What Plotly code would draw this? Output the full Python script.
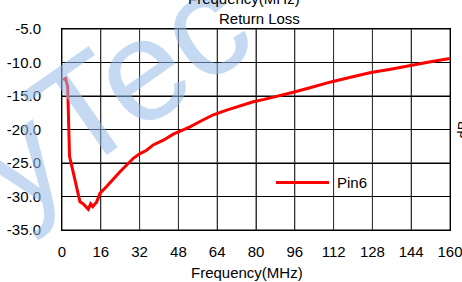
import plotly.graph_objects as go

# Data
freq_mhz = [0.5, 1.5, 2.35, 2.7, 3.1, 4.7, 6.1, 7.4, 8.8, 9.9, 10.85, 11.8, 12.7,
            14.3, 15.7, 18.4, 21.2, 23.9, 26.7, 29.4, 32.2, 34.9, 37.6, 41.8,
            45.9, 48.7, 52.8, 56.9, 62.4, 67.9, 73.4, 78.9, 83.4, 89.5, 95.8,
            103.0, 110.9, 119.0, 127.4, 135.5, 143.9, 152.0, 159.9]
return_loss_db = [-12.6, -12.4, -13.6, -19.0, -24.0, -26.5, -29.0, -30.8, -31.1,
                  -31.5, -31.9, -31.1, -31.5, -30.8, -29.5, -28.5, -27.3, -26.3,
                  -25.3, -24.3, -23.6, -23.1, -22.3, -21.6, -20.7, -20.3, -19.6,
                  -18.8, -17.8, -17.1, -16.5, -15.85, -15.5, -15.0, -14.4, -13.7,
                  -12.9, -12.2, -11.5, -11.0, -10.4, -9.9, -9.4]
x_ticks = [0, 16, 32, 48, 64, 80, 96, 112, 128, 144, 160]
y_ticks = [-35, -30, -25, -20, -15, -10, -5]
series_name = "Pin6"

FONT = "Liberation Sans, Arial, sans-serif"
WM = "rgba(150,188,232,0.55)"

fig = go.Figure()
fig.add_trace(go.Scatter(x=freq_mhz, y=return_loss_db, mode="lines",
                         name=series_name, showlegend=False,
                         line=dict(color="#ff0000", width=3)))

axis_common = dict(showline=True, linecolor="black", linewidth=1, mirror=True,
                   showgrid=True, gridwidth=1,
                   zeroline=False, automargin=False, ticks="",
                   ticklabeloverflow="allow",
                   tickfont=dict(family=FONT, size=15, color="black"))

fig.update_xaxes(range=[0, 160], tickmode="array", tickvals=x_ticks,
                 ticktext=[str(v) for v in x_ticks], ticklabelstandoff=8,
                 gridcolor="#333333", **axis_common)
fig.update_yaxes(range=[-35, -5], tickmode="array", tickvals=y_ticks,
                 ticktext=[f"{v:.1f}" for v in y_ticks], ticklabelstandoff=17,
                 gridcolor="black", **axis_common)

annotations = [
    # faint watermark
    dict(text="Tec", x=0.2, y=0.79, xref="paper", yref="paper",
         showarrow=False, xanchor="center", yanchor="middle", textangle=-35,
         font=dict(family=FONT, size=145, color=WM)),
    dict(text="y", x=-0.11, y=0.35, xref="paper", yref="paper",
         showarrow=False, xanchor="center", yanchor="middle", textangle=-35,
         font=dict(family=FONT, size=140, color=WM)),
    dict(text="Frequency(MHz)", x=0.469, y=1.152, xref="paper", yref="paper",
         showarrow=False, xanchor="center", yanchor="middle",
         font=dict(family=FONT, size=15, color="black")),
    dict(text="Return Loss", x=0.508, y=1.052, xref="paper", yref="paper",
         showarrow=False, xanchor="center", yanchor="middle",
         font=dict(family=FONT, size=15, color="black")),
    dict(text="Frequency(MHz)", x=0.477, y=-0.209, xref="paper", yref="paper",
         showarrow=False, xanchor="center", yanchor="middle",
         font=dict(family=FONT, size=15, color="black")),
    dict(text="dB", x=1.03, y=0.4975, xref="paper", yref="paper",
         showarrow=False, xanchor="center", yanchor="middle", textangle=-90,
         font=dict(family=FONT, size=15, color="black")),
    dict(text=series_name, x=0.7036, y=0.2363, xref="paper", yref="paper",
         showarrow=False, xanchor="left", yanchor="middle",
         font=dict(family=FONT, size=15, color="black")),
]

shapes = []
# grid lines at the tick values (backup for the axis grid)
for xv in x_ticks:
    shapes.append(dict(type="line", xref="x", yref="paper", x0=xv, x1=xv,
                       y0=0, y1=1, layer="between",
                       line=dict(color="#333333", width=1)))
for yv in y_ticks:
    shapes.append(dict(type="line", xref="paper", yref="y", x0=0, x1=1,
                       y0=yv, y1=yv, layer="between",
                       line=dict(color="black", width=1)))
# manual legend key
shapes.append(dict(type="line", xref="paper", yref="paper", x0=0.5515, x1=0.6881,
                   y0=0.2363, y1=0.2363, line=dict(color="#ff0000", width=3)))

fig.update_layout(width=462, height=282,
                  margin=dict(l=62, r=12, t=29, b=52, autoexpand=False),
                  paper_bgcolor="white", plot_bgcolor="rgba(0,0,0,0)",
                  showlegend=False, annotations=annotations, shapes=shapes)

fig.write_html("out.html", config={"displayModeBar": False},
               post_script="document.body.style.margin='0';"
                           "document.body.style.overflow='hidden';")
